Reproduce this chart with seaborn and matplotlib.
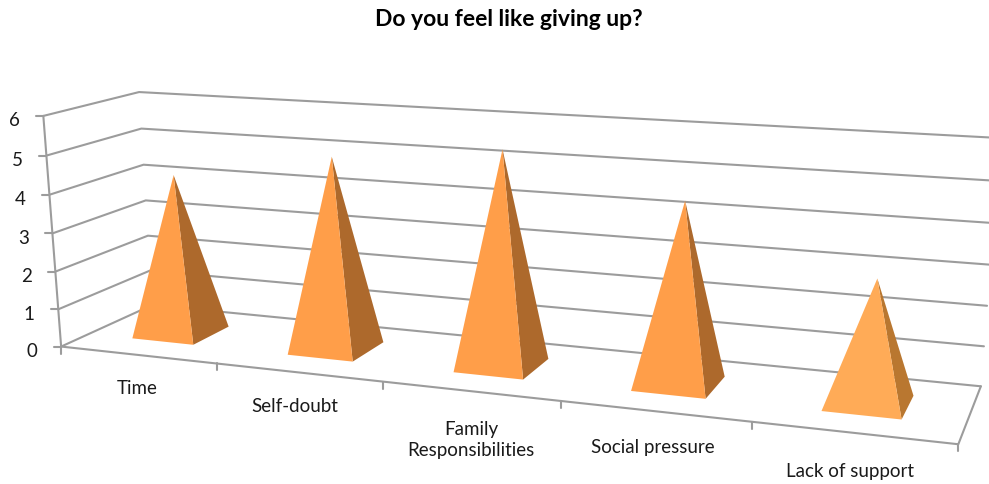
import numpy as np
import pandas as pd
import matplotlib
matplotlib.use("Agg")
import matplotlib.pyplot as plt
import seaborn as sns

categories = ["Time", "Self-doubt", "Family\nResponsibilities", "Social pressure", "Lack of support"]
values = [4.25, 5.0, 5.45, 4.5, 3.0]
y_ticks = [0, 1, 2, 3, 4, 5, 6]
front_colors = ["#FF9E49", "#FF9E49", "#FF9E49", "#FF9E49", "#FFAB57"]
side_colors = ["#AD692C", "#AD692C", "#AD692C", "#AD692C", "#B97730"]

label_xy = [(137, 388), (295, 407), (471, 440), (653, 448), (850, 471)]

# calibration of the 3D projection: (category, depth, value) -> pixel
calib = [
    ((0, 0, 0), (61, 347)), ((0, 0, 3), (53, 233)), ((0, 0, 6), (43, 116)),
    ((0, 1, 0), (152, 305)), ((0, 1, 3), (146, 200.5)), ((0, 1, 6), (139, 92)),
    ((5, 0, 0), (958, 444)), ((5, 1, 0), (981, 386)), ((5, 1, 3), (990, 265)),
    ((5, 1, 6), (1000, 138)), ((1, 0, 0), (217, 363)), ((2, 0, 0), (382, 382)),
    ((3, 0, 0), (561, 401)), ((4, 0, 0), (753, 422)),
]
A, b = [], []
for (X, Y, Z), (u, v) in calib:
    A.append([X, Y, Z, 1, 0, 0, 0, 0, -u * X, -u * Y, -u * Z]); b.append(u)
    A.append([0, 0, 0, 0, X, Y, Z, 1, -v * X, -v * Y, -v * Z]); b.append(v)
P = np.append(np.linalg.lstsq(np.array(A, float), np.array(b, float), rcond=None)[0], 1).reshape(3, 4)


def proj(x, d, z):
    q = P @ np.array([x, d, z, 1.0])
    return q[0] / q[2], q[1] / q[2]


sns.set_theme(style="white")
plt.rcParams["font.family"] = ["Lato", "DejaVu Sans"]
fig = plt.figure(figsize=(9.89, 4.84), dpi=100)
ax = fig.add_axes([0, 0, 1, 1])
ax.set_xlim(0, 989)
ax.set_ylim(484, 0)
ax.axis("off")

GRID = "#9C9C9C"
LW = 1.5


def seg(points):
    df = pd.DataFrame(points, columns=["px", "py"])
    sns.lineplot(data=df, x="px", y="py", sort=False, estimator=None, color=GRID, lw=LW, ax=ax, legend=False)


n = len(categories)
for z in y_ticks:
    seg([proj(0, 0, z), proj(0, 1, z), proj(n, 1, z)])
    fx, fy = proj(0, 0, z)
    seg([(fx - 7, fy), (fx, fy)])
    ax.text(fx - 29, fy + 5, str(z), ha="center", va="center", fontsize=13.5, color="#1a1a1a")
seg([proj(0, 0, 0), proj(0, 0, 6)])
seg([proj(0, 0, 0), proj(n, 0, 0), proj(n, 1, 0)])
for i in range(n + 1):
    fx, fy = proj(i, 0, 0)
    seg([(fx, fy), (fx, fy + 7)])

HWL, HWR, D0, D1 = 0.21, 0.19, 0.29, 0.71
for i, val in enumerate(values):
    c = i + 0.5
    fl = proj(c - HWL, D0, 0)
    fr = proj(c + HWR, D0, 0)
    br = proj(c + HWR, D1, 0)
    apex = proj(c, 0.5, val)
    ax.fill(*zip(fr, br, apex), color=side_colors[i], lw=0, zorder=5)
    ax.fill(*zip(fl, fr, apex), color=front_colors[i], lw=0, zorder=6)

for lab, (lx, ly) in zip(categories, label_xy):
    ax.text(lx, ly, lab, ha="center", va="center", fontsize=13.5, color="#1a1a1a", linespacing=1.25)

ax.text(509, 20, "Do you feel like giving up?", ha="center", va="center",
        fontsize=16.5, fontweight="bold", color="black")
fig.savefig("out.png", dpi=100, facecolor="white")
